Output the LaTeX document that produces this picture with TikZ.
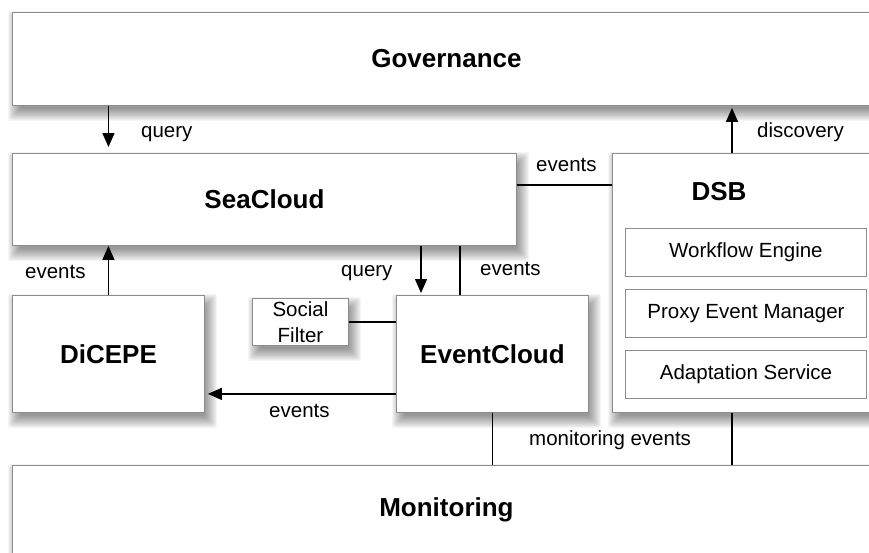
\documentclass[tikz,border=0pt]{standalone}
\usepackage{fontspec}
\setmainfont{Liberation Sans}
\usetikzlibrary{arrows.meta,calc}
\pgfdeclarelayer{bg}
\pgfsetlayers{bg,main}
\newcommand\mkshadow[1]{%
  \foreach \i in {0,...,11}{%
    \pgfmathsetmacro\rr{-4+\i*1.1}%
    \fill[black, opacity=0.04, rounded corners=2pt]
      ($(#1.south west)+(4-\rr,7+\rr)$) rectangle ($(#1.north east)+(4+\rr,7-\rr)$);
  }%
}
\begin{document}
\begin{tikzpicture}[x=1pt,y=-1pt,
  box/.style={draw=black!45, line width=0.9pt, fill=white, rectangle, inner sep=0pt, anchor=north west,
    font=\bfseries\fontsize{26}{31}\selectfont},
  innerbox/.style={draw=black!45, line width=0.9pt, fill=white, rectangle, inner sep=0pt, anchor=north west,
    minimum width=241pt, minimum height=48pt, font=\fontsize{20.5}{24}\selectfont},
  lbl/.style={anchor=base west, inner sep=0pt, font=\fontsize{20.5}{24}\selectfont},
  conn/.style={line width=1.4pt, black},
  arr/.style={conn, -{Triangle[length=14pt,width=12pt]}}
]
\useasboundingbox (0,0) rectangle (869,552);
\begin{pgfonlayer}{bg}
\fill[white] (0,0) rectangle (869,552);
\end{pgfonlayer}
\clip (0,0) rectangle (869,552);

% boxes
\node[box, minimum width=868pt, minimum height=93pt] (gov) at (12,12) {Governance};
\node[box, minimum width=504pt, minimum height=92pt] (sea) at (12,153) {SeaCloud};
\node[box, minimum width=268pt, minimum height=259pt] (dsb) at (612,153) {};
\node[font=\bfseries\fontsize{26}{31}\selectfont, inner sep=0pt] (dsbt) at (719,192) {DSB};
\node[innerbox] (wf) at (625,228) {Workflow Engine};
\node[innerbox] (pem) at (625,289) {Proxy Event Manager};
\node[innerbox] (ad) at (625,350) {Adaptation Service};
\node[box, minimum width=192pt, minimum height=117pt] (dic) at (12,295) {DiCEPE};
\node[box, minimum width=192pt, minimum height=117pt] (ec) at (396,295) {EventCloud};
\node[box, font=\fontsize{20.5}{25.5}\selectfont, align=center, minimum width=96pt, minimum height=47pt] (sf) at (252,298) {Social\\Filter};
\node[box, minimum width=868pt, minimum height=88pt] (mon) at (12,465) {Monitoring};

% shadows
\begin{pgfonlayer}{bg}
\mkshadow{gov}
\mkshadow{sea}
\mkshadow{dsb}
\mkshadow{dic}
\mkshadow{ec}
\mkshadow{sf}
\mkshadow{mon}
\end{pgfonlayer}

% helper coordinates
\coordinate (q) at ([xshift=25pt]ec.north west);
\coordinate (ev) at ([xshift=64pt]ec.north west);
\coordinate (ee) at ([yshift=19pt]ec.south west);
\coordinate (dd) at ([xshift=120pt]dsb.south west);

% connectors
\draw[arr] (gov.south -| dic.north) -- ($(sea.north -| dic.north)+(0,-6)$);
\draw[arr] (dic.north) -- (sea.south -| dic.north);
\draw[conn] ([yshift=-32pt]sea.north east) -- ([yshift=-32pt]dsb.north west);
\draw[arr] (sea.south -| q) -- ($(q)+(0,-2)$);
\draw[conn] (sea.south -| ev) -- (ev);
\draw[conn] (sf.east) -- (sf.east -| ec.west);
\draw[arr] (ee) -- ($(ee -| dic.east)+(3,0)$);
\draw[conn] (ec.south) -- (ec.south |- mon.north);
\draw[conn] (dd) -- (dd |- mon.north);
\draw[arr] (dsb.north -| dd) -- ($(gov.south -| dd)+(0,2)$);

% labels
\node[lbl] (l1) at (141,137) {query};
\node[lbl] (l2) at (757,137) {discovery};
\node[lbl] (l3) at (536,171) {events};
\node[lbl] (l4) at (480,275) {events};
\node[lbl] (l5) at (341,276) {query};
\node[lbl] (l6) at (25,278) {events};
\node[lbl] (l7) at (269,417) {events};
\node[lbl] (l8) at (529,445) {monitoring events};
\end{tikzpicture}
\end{document}
